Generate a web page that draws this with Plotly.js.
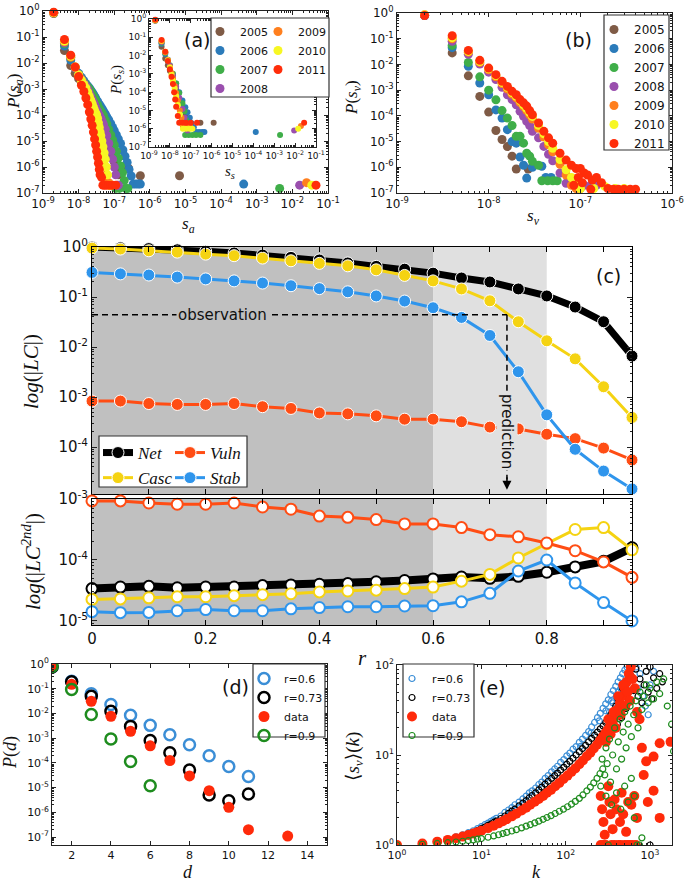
<!DOCTYPE html>
<html><head><meta charset="utf-8">
<script src="https://cdn.plot.ly/plotly-3.0.1.min.js"></script>
<style>body{margin:0;background:#fff}#chart{width:685px;height:881px}</style>
</head><body><div id="chart"></div>
<script>
// ---------------- DATA ----------------
const years = ['2005','2006','2007','2008','2009','2010','2011'];
// panel (a) main: [s_a, P(s_a)]
const a2005 = [[2e-9,0.8],[4e-9,0.03],[6e-9,0.008],[8e-9,0.004],[1e-8,0.0025],[1.2e-8,0.0017],[1.4e-8,0.0012],[1.6e-8,8.5e-4],[1.8e-8,6.2e-4],[2e-8,4.6e-4],[2.4e-8,2.7e-4],[2.8e-8,1.7e-4],[3.2e-8,1.1e-4],[3.8e-8,6.6e-5],[4.4e-8,4.2e-5],[5e-8,2.7e-5],[6e-8,1.5e-5],[7e-8,8e-6],[8e-8,4.5e-6],[9e-8,2.6e-6],[1e-7,1.6e-6],[1.15e-7,9e-7],[1.3e-7,5e-7],[2.5e-7,9e-7],[5.4e-7,4.6e-7],[6.8e-6,4.6e-7]];
const a2006 = [[2e-9,0.85],[4e-9,0.045],[6e-9,0.013],[8e-9,0.0065],[1e-8,0.004],[1.2e-8,0.0028],[1.4e-8,0.0021],[1.6e-8,0.0016],[1.8e-8,0.0013],[2e-8,0.0011],[2.2e-8,9e-4],[2.4e-8,7.5e-4],[2.6e-8,6.3e-4],[2.8e-8,5.3e-4],[3e-8,4.5e-4],[3.4e-8,3.4e-4],[3.8e-8,2.6e-4],[4.2e-8,2.1e-4],[4.6e-8,1.7e-4],[5e-8,1.4e-4],[5.6e-8,1.1e-4],[6.2e-8,8.5e-5],[7e-8,6.5e-5],[8e-8,4.6e-5],[9e-8,3.3e-5],[1e-7,2.5e-5],[1.15e-7,1.7e-5],[1.3e-7,1.2e-5],[1.5e-7,8e-6],[1.75e-7,4.5e-6],[2e-7,2.6e-6],[2.3e-7,1.5e-6],[2.6e-7,8e-7],[3e-7,4.5e-7],[3.4e-7,2.2e-7],[4e-7,2.2e-7],[4.7e-7,2.2e-7],[5.4e-7,2.2e-7],[4.3e-4,2.2e-7]];
const a2007 = [[2e-9,0.85],[4e-9,0.055],[6e-9,0.016],[8e-9,0.0068],[1e-8,0.0036],[1.2e-8,0.0025],[1.4e-8,0.0018],[1.6e-8,0.0014],[1.8e-8,0.0012],[2e-8,0.001],[2.2e-8,8e-4],[2.4e-8,6.5e-4],[2.6e-8,5.3e-4],[2.8e-8,4.4e-4],[3e-8,3.6e-4],[3.4e-8,2.5e-4],[3.8e-8,1.8e-4],[4.2e-8,1.4e-4],[4.6e-8,1.15e-4],[5e-8,9.5e-5],[5.6e-8,6.5e-5],[6.2e-8,4.5e-5],[7e-8,2.8e-5],[8e-8,1.7e-5],[9e-8,1.1e-5],[1e-7,7e-6],[1.15e-7,4e-6],[1.3e-7,2.2e-6],[1.5e-7,1.1e-6],[1.7e-7,6e-7],[1.9e-7,3e-7],[1.1e-7,1.5e-7],[1.4e-7,1.5e-7],[2.1e-7,1.5e-7],[2.4e-7,1.5e-7],[4.4e-3,1.5e-7]];
const a2008 = [[2e-9,0.85],[4e-9,0.06],[6e-9,0.017],[8e-9,0.0065],[1e-8,0.0035],[1.2e-8,0.0024],[1.4e-8,0.0017],[1.6e-8,0.0013],[1.8e-8,9.5e-4],[2e-8,6.8e-4],[2.2e-8,5.1e-4],[2.4e-8,3.9e-4],[2.6e-8,3.1e-4],[2.8e-8,2.5e-4],[3e-8,2e-4],[3.4e-8,1.4e-4],[3.8e-8,1e-4],[4.2e-8,7.5e-5],[4.6e-8,5.5e-5],[5e-8,4.2e-5],[5.6e-8,2.8e-5],[6.2e-8,1.6e-5],[7e-8,8e-6],[8e-8,4e-6],[9e-8,2e-6],[1e-7,1e-6],[1.1e-7,5e-7],[1.2e-7,2e-7],[1.3e-7,2e-7],[1.6e-2,2e-7]];
const a2009 = [[2e-9,0.85],[4e-9,0.065],[6e-9,0.017],[8e-9,0.0068],[1e-8,0.0033],[1.2e-8,0.002],[1.4e-8,0.0013],[1.6e-8,9e-4],[1.8e-8,6.2e-4],[2e-8,4.3e-4],[2.2e-8,3e-4],[2.4e-8,2.1e-4],[2.6e-8,1.5e-4],[2.8e-8,1.1e-4],[3e-8,8e-5],[3.2e-8,5.8e-5],[3.4e-8,4.2e-5],[3.6e-8,3e-5],[3.8e-8,2.1e-5],[4e-8,1.5e-5],[4.4e-8,8e-6],[4.8e-8,4e-6],[5.2e-8,2e-6],[5.6e-8,1e-6],[6e-8,5e-7],[6.5e-8,2.5e-7],[7e-8,2.5e-7],[2.5e-2,2.5e-7]];
const a2010 = [[2e-9,0.85],[4e-9,0.07],[6e-9,0.018],[8e-9,0.007],[1e-8,0.0035],[1.2e-8,0.0022],[1.4e-8,0.0015],[1.6e-8,0.0011],[1.8e-8,7.5e-4],[2e-8,5.2e-4],[2.2e-8,3.7e-4],[2.4e-8,2.7e-4],[2.6e-8,2e-4],[2.8e-8,1.5e-4],[3e-8,1.2e-4],[3.2e-8,1e-4],[3.4e-8,7.5e-5],[3.6e-8,5e-5],[3.8e-8,3.3e-5],[4e-8,2.2e-5],[4.2e-8,1.6e-5],[4.5e-8,1e-5],[4.8e-8,6e-6],[5.2e-8,3.5e-6],[5.6e-8,2e-6],[6e-8,1e-6],[6.5e-8,5e-7],[7e-8,2e-7],[7.6e-8,2e-7],[8.2e-8,2e-7],[3.5e-2,2e-7]];
const a2011 = [[2e-9,0.9],[4e-9,0.08],[6e-9,0.02],[8e-9,0.007],[1e-8,0.003],[1.2e-8,0.0014],[1.4e-8,8e-4],[1.6e-8,4.5e-4],[1.8e-8,2.5e-4],[2e-8,1.3e-4],[2.2e-8,7e-5],[2.4e-8,4e-5],[2.6e-8,2.2e-5],[2.8e-8,1.2e-5],[3e-8,7e-6],[3.2e-8,4e-6],[3.4e-8,2.4e-6],[3.6e-8,1.4e-6],[3.8e-8,8e-7],[4e-8,5e-7],[4.4e-8,4e-7],[4.8e-8,2e-7],[5.4e-8,2e-7],[6e-8,2e-7],[7e-8,2e-7],[8e-8,2e-7],[9e-8,2e-7],[1.1e-7,2e-7],[4.6e-2,2e-7]];
// panel (a) inset: [s_s, P(s_s)]
const s2005 = [[2e-9,0.8],[4e-9,0.03],[6e-9,0.007],[8e-9,0.003],[1e-8,0.0015],[1.4e-8,5e-4],[2e-8,1.5e-4],[2.8e-8,4e-5],[4e-8,1.2e-5],[5.5e-8,5e-6],[7e-8,2.1e-6],[2.9e-7,2.1e-6],[1.25e-6,2.1e-6]];
const s2006 = [[2e-9,0.85],[4e-9,0.045],[6e-9,0.012],[8e-9,0.005],[1e-8,0.0025],[1.4e-8,9e-4],[2e-8,3e-4],[2.8e-8,1e-4],[4e-8,3.5e-5],[5.5e-8,1.5e-5],[7e-8,8e-6],[9e-8,4e-6],[1.1e-7,2e-6],[1.4e-7,1.2e-6],[1.8e-7,6.6e-7],[2.5e-7,6.6e-7],[3.5e-7,6.6e-7],[4.5e-7,6.6e-7],[1.3e-4,6.6e-7]];
const s2007 = [[2e-9,0.85],[4e-9,0.05],[6e-9,0.014],[8e-9,0.006],[1e-8,0.003],[1.4e-8,0.001],[2e-8,3e-4],[2.8e-8,9e-5],[4e-8,2.5e-5],[5e-8,9e-6],[6e-8,3e-6],[7e-8,1e-6],[5.4e-8,4.5e-7],[8e-8,4.5e-7],[1.2e-7,4.5e-7],[1.8e-7,4.5e-7],[2.9e-7,4.5e-7],[1.9e-3,4.5e-7]];
const s2008 = [[2e-9,0.85],[4e-9,0.055],[6e-9,0.015],[8e-9,0.006],[1e-8,0.0028],[1.4e-8,8e-4],[2e-8,2e-4],[2.8e-8,5e-5],[4e-8,1.2e-5],[5e-8,4e-6],[6e-8,1.5e-6],[7e-8,8e-7],[9e-3,8e-7]];
const s2009 = [[2e-9,0.85],[4e-9,0.06],[6e-9,0.015],[8e-9,0.0055],[1e-8,0.0024],[1.2e-8,1.1e-3],[1.4e-8,5.5e-4],[1.7e-8,2.2e-4],[2e-8,9e-5],[2.4e-8,3.5e-5],[3e-8,1e-5],[3.6e-8,4e-6],[4.2e-8,1.4e-6],[6e-8,1.4e-6],[9e-8,1.4e-6],[1.9e-2,1.4e-6]];
const s2010 = [[2e-9,0.85],[4e-9,0.065],[6e-9,0.016],[8e-9,0.0055],[1e-8,0.0022],[1.2e-8,9e-4],[1.4e-8,4.2e-4],[1.7e-8,1.6e-4],[2e-8,6e-5],[2.4e-8,2e-5],[3e-8,6e-6],[3.6e-8,2e-6],[4.2e-8,1e-6],[6e-8,1e-6],[9e-8,1e-6],[1.2e-7,1e-6],[1.4e-2,1e-6]];
const s2011 = [[2e-9,0.9],[4e-9,0.07],[6e-9,0.016],[8e-9,0.005],[1e-8,0.0018],[1.2e-8,7e-4],[1.4e-8,2.8e-4],[1.6e-8,1e-4],[1.8e-8,4e-5],[2e-8,1.6e-5],[2.4e-8,5e-6],[2.8e-8,2.1e-6],[4e-8,2.1e-6],[6e-8,2.1e-6],[1e-7,2.1e-6],[2e-7,2.1e-6],[2.7e-2,2.1e-6]];
// panel (b): [s_v, P(s_v)]
const b2005 = [[2e-9,0.8],[4e-9,0.028],[6e-9,0.0036],[8e-9,5.7e-4],[1e-8,1.4e-4],[1.2e-8,2.7e-5],[1.4e-8,1.2e-5],[1.6e-8,6.4e-6],[1.8e-8,2.7e-6],[2e-8,8.6e-7],[2.7e-8,8.6e-7]];
const b2006 = [[2e-9,0.8],[4e-9,0.045],[6e-9,0.0085],[8e-9,0.0019],[1e-8,6.6e-4],[1.2e-8,1.7e-4],[1.4e-8,8.2e-5],[1.6e-8,2.9e-5],[1.8e-8,1e-5],[2e-8,8.7e-6],[2.2e-8,2.5e-6],[2.4e-8,1.2e-6],[2.6e-8,3.8e-7],[3e-8,1e-6],[3.8e-8,1.1e-6],[4.2e-8,4e-7],[4.8e-8,4e-7]];
const b2007 = [[2e-9,0.8],[4e-9,0.055],[6e-9,0.012],[8e-9,0.0033],[1e-8,1e-3],[1.2e-8,4.2e-4],[1.4e-8,1.6e-4],[1.6e-8,8.2e-5],[1.8e-8,4.2e-5],[2e-8,1.6e-5],[2.2e-8,1.6e-5],[2.4e-8,8.7e-6],[2.6e-8,3.5e-6],[2.8e-8,2.7e-6],[3e-8,1.7e-6],[3.5e-8,1.2e-6],[3.8e-8,3e-7],[4.4e-8,3e-7],[5e-8,3e-7],[5.6e-8,3e-7]];
const b2008 = [[2e-9,0.8],[4e-9,0.08],[6e-9,0.025],[8e-9,0.0104],[1e-8,0.005],[1.2e-8,0.0026],[1.4e-8,0.0013],[1.6e-8,6.6e-4],[1.8e-8,4.3e-4],[2e-8,2.7e-4],[2.2e-8,1.5e-4],[2.4e-8,9.6e-5],[2.6e-8,6.1e-5],[2.8e-8,4.2e-5],[3e-8,2.5e-5],[3.5e-8,1.4e-5],[4e-8,6.5e-6],[4.5e-8,3.2e-6],[5e-8,1.8e-6],[6e-8,6e-7],[7e-8,2.4e-7],[8e-8,2.4e-7],[9e-8,2.4e-7],[1.1e-7,2e-7],[1.3e-7,2e-7],[1.5e-7,2e-7]];
const b2009 = [[2e-9,0.85],[4e-9,0.1],[6e-9,0.03],[8e-9,0.012],[1e-8,0.0062],[1.2e-8,0.0033],[1.4e-8,0.0018],[1.6e-8,0.0011],[1.8e-8,7e-4],[2e-8,5e-4],[2.2e-8,3.3e-4],[2.4e-8,2.3e-4],[2.6e-8,1.6e-4],[2.8e-8,1.1e-4],[3e-8,7.5e-5],[3.5e-8,3.3e-5],[4e-8,1.5e-5],[4.5e-8,7.5e-6],[5e-8,4e-6],[6e-8,1.3e-6],[7e-8,5e-7],[8e-8,2e-7],[9e-8,1.5e-7],[1e-7,1.5e-7]];
const b2010 = [[2e-9,0.85],[4e-9,0.11],[6e-9,0.032],[8e-9,0.013],[1e-8,0.0068],[1.2e-8,0.0037],[1.4e-8,0.002],[1.6e-8,0.0013],[1.8e-8,8e-4],[2e-8,5.8e-4],[2.2e-8,3.9e-4],[2.4e-8,2.7e-4],[2.6e-8,1.9e-4],[2.8e-8,1.35e-4],[3e-8,9.5e-5],[3.5e-8,4.3e-5],[4e-8,2e-5],[4.5e-8,1e-5],[5e-8,5.5e-6],[6e-8,2e-6],[7e-8,8e-7],[8e-8,4e-7],[9e-8,2.5e-7],[1e-7,1.5e-7],[1.4e-7,1.5e-7],[1.85e-7,1.8e-7],[2.4e-7,1.5e-7],[3e-7,1.5e-7]];
const b2011 = [[2e-9,0.8],[4e-9,0.13],[6e-9,0.035],[8e-9,0.0144],[1e-8,0.0072],[1.2e-8,0.004],[1.4e-8,0.0022],[1.6e-8,0.0014],[1.8e-8,9e-4],[2e-8,6.6e-4],[2.2e-8,4.3e-4],[2.4e-8,3.2e-4],[2.6e-8,2.4e-4],[2.8e-8,1.6e-4],[3e-8,1.1e-4],[3.5e-8,5.3e-5],[4e-8,2.5e-5],[4.5e-8,1.4e-5],[5e-8,8.7e-6],[6e-8,3.5e-6],[7e-8,1.9e-6],[8e-8,1.2e-6],[9e-8,9e-7],[1e-7,9e-7],[1.1e-7,6e-7],[1.2e-7,5e-7],[1.35e-7,3.2e-7],[1.5e-7,4e-7],[1.7e-7,2.5e-7],[2e-7,1.5e-7],[2.3e-7,1.4e-7],[2.6e-7,1.4e-7],[3e-7,1.4e-7],[3.5e-7,1.4e-7],[4e-7,1.4e-7],[9.5e-8,4e-7],[1.05e-7,2.5e-7],[8.5e-8,2e-7],[1.3e-7,1.4e-7]];

// panel (c): r and LC values
const rVals = [0,0.05,0.1,0.15,0.2,0.25,0.3,0.35,0.4,0.45,0.5,0.55,0.6,0.65,0.7,0.75,0.8,0.85,0.9,0.95];
const netLC  = [1.0,0.97,0.93,0.88,0.82,0.76,0.69,0.62,0.55,0.48,0.41,0.36,0.30,0.24,0.20,0.145,0.105,0.063,0.032,0.0066];
const cascLC = [0.95,0.91,0.84,0.79,0.72,0.67,0.60,0.53,0.47,0.42,0.35,0.27,0.21,0.145,0.084,0.032,0.0133,0.0058,0.0016,3.9e-4];
const vulnLC = [8.3e-4,8.3e-4,7.4e-4,7.1e-4,7.1e-4,7.4e-4,6.4e-4,5.9e-4,4.8e-4,4.6e-4,4.2e-4,3.6e-4,3.6e-4,3.2e-4,2.5e-4,2.3e-4,1.8e-4,1.47e-4,9.5e-5,5.5e-5];
const stabLC = [0.31,0.29,0.275,0.25,0.23,0.21,0.19,0.168,0.147,0.127,0.105,0.083,0.061,0.039,0.017,0.0032,4.4e-4,9.0e-5,3.3e-5,1.45e-5];
const netLC2  = [3.4e-5,3.6e-5,3.7e-5,3.5e-5,3.6e-5,3.6e-5,3.8e-5,3.9e-5,4.0e-5,4.1e-5,4.4e-5,4.6e-5,4.9e-5,5.25e-5,5.0e-5,5.4e-5,6.3e-5,7.7e-5,9.5e-5,1.58e-4];
const cascLC2 = [2.26e-5,2.3e-5,2.4e-5,2.5e-5,2.5e-5,2.6e-5,2.7e-5,2.8e-5,3.0e-5,3.1e-5,3.2e-5,3.4e-5,3.6e-5,4.5e-5,5.8e-5,1.08e-4,1.85e-4,3.16e-4,3.4e-4,1.47e-4];
const vulnLC2 = [9.3e-4,9.3e-4,8.6e-4,8.2e-4,8.2e-4,8.6e-4,7.4e-4,6.8e-4,5.25e-4,5.0e-4,4.6e-4,3.9e-4,3.9e-4,3.4e-4,2.6e-4,2.4e-4,1.9e-4,1.42e-4,9.3e-5,5.2e-5];
const stabLC2 = [1.42e-5,1.37e-5,1.38e-5,1.47e-5,1.54e-5,1.47e-5,1.47e-5,1.58e-5,1.66e-5,1.71e-5,1.71e-5,1.76e-5,1.78e-5,2.06e-5,2.84e-5,6.6e-5,1.0e-4,4.2e-5,2.0e-5,1.0e-5];
const darkBand = [0, 0.6], lightBand = [0.6, 0.8];
const obsR = 0.73, obsLC = 0.044, predEnd = 1.4e-5;

// panel (d)
const d06x = [1,2,3,4,5,6,7,8,9,10,11];
const d06y = [0.75,0.2,0.063,0.023,0.0085,0.0033,0.00138,5.4e-4,1.94e-4,7.1e-5,2.8e-5];
const d073x = [1,2,3,4,5,6,7,8,9,10,11];
const d073y = [0.75,0.19,0.05,0.0123,0.003,8.1e-4,2.6e-4,5.2e-5,5.0e-6,2.95e-6,5.5e-6];
const dDatx = [1,2,3,4,5,6,7,8,9,10,11,13];
const dDaty = [0.75,0.15,0.031,0.0077,0.0019,4.9e-4,1.25e-4,2.96e-5,7.5e-6,1.6e-6,2.0e-7,1.1e-7];
const d09x = [1,2,3,4,5,6];
const d09y = [0.8,0.094,0.0091,9.3e-4,1.15e-4,1.2e-5];

// panel (e): [k, <s_v>(k)]
const e06 = [[1,1.0],[2,1.05],[3,1.1],[4,1.16],[5,1.23],[6,1.3],[7,1.37],[8,1.44],[9,1.52],[10,1.6],[11,1.68],[12,1.75],[13,1.83],[14,1.9],[15,1.98],[17,2.1],[19,2.3],[21,2.45],[23,2.6],[25,2.8],[28,3.0],[31,3.25],[34,3.5],[37,3.8],[40,4.0],[44,4.3],[48,4.7],[52,5.0],[57,5.5],[62,5.9],[68,6.5],[74,7.0],[80,7.5],[87,8.3],[95,8.9],[103,9.8],[112,10.5],[122,11.6],[133,12.4],[145,13.8],[158,15.0],[172,16.5],[187,18.2],[203,20.5],[220,23],[238,26],[257,29],[277,33],[298,37],[320,41],[343,47],[367,52],[392,58],[418,65],[445,72],[473,80],[502,88],[532,95],[150,12.5],[200,17.5],[250,24],[300,31],[350,40],[420,50],[480,62],[330,30],[360,38],[400,45],[450,55],[520,60],[560,75],[600,90],[640,70],[680,95],[720,55],[760,80],[820,45],[880,35],[950,28],[1000,60],[1100,85]];
const e073 = [[1,1.0],[2,1.04],[3,1.09],[4,1.14],[5,1.2],[6,1.26],[7,1.32],[8,1.38],[9,1.45],[10,1.52],[11,1.58],[12,1.65],[13,1.71],[14,1.78],[15,1.84],[17,1.97],[19,2.1],[21,2.25],[23,2.38],[25,2.5],[28,2.72],[31,2.92],[34,3.12],[37,3.35],[40,3.55],[44,3.8],[48,4.1],[52,4.4],[57,4.75],[62,5.1],[68,5.5],[74,5.9],[80,6.3],[87,6.8],[95,7.3],[103,7.9],[112,8.5],[122,9.2],[133,10.0],[145,10.9],[158,11.8],[172,12.8],[187,14.0],[203,15.3],[220,16.6],[238,18.0],[257,19.5],[277,21],[298,23],[320,25],[343,28],[367,24],[392,35],[418,42],[445,30],[473,55],[502,48],[532,65],[560,40],[600,75],[640,52],[680,90],[720,45],[760,70],[800,38],[850,60],[900,85],[950,50],[1000,95],[1050,42],[1100,72],[1200,55],[1300,80],[1400,65],[1000,1.0],[380,28],[410,22],[430,36],[460,26],[490,40],[520,33]];
const eData = [[1,1.0],[2,1.04],[3,1.09],[4,1.14],[5,1.19],[6,1.24],[7,1.29],[8,1.34],[9,1.39],[10,1.44],[12,1.54],[14,1.64],[16,1.74],[18,1.84],[20,1.94],[23,2.08],[26,2.22],[30,2.42],[34,2.6],[38,2.8],[43,3.02],[48,3.25],[54,3.5],[60,3.8],[67,4.1],[75,4.5],[84,4.9],[94,5.4],[105,5.9],[117,6.5],[130,7.1],[145,7.9],[160,8.7],[178,9.7],[196,10.6],[215,11.8],[235,13],[255,14.5],[275,16],[295,17.5],[315,19],[335,21],[360,23],[385,27],[410,32],[440,38],[470,45],[500,55],[530,65],[560,80],[590,95],[300,14],[320,25],[340,17],[370,30],[390,20],[420,45],[450,28],[480,60],[510,35],[540,50],[580,40],[620,70],[660,55],[700,30],[750,25],[800,12],[840,6],[900,8.5],[1100,9.6],[1300,13.5],[1750,14],[1100,4],[1300,2],[940,3],[260,3.5],[270,2.5],[280,1.8],[290,1.3],[300,1.0],[320,4.5],[330,3.0],[340,2.2],[350,1.0],[360,1.5],[380,3.2],[400,2.5],[420,1.0],[440,1.8],[460,3.8],[480,2.2],[500,1.0],[520,1.4],[550,3.0],[580,1.0],[600,2.8],[620,1.0],[650,3.5],[680,1.0],[700,2.0],[280,1.0],[260,1.0],[380,1.0],[450,1.0],[540,1.0]];
const e09 = [[1,1.0],[2,1.02],[3,1.04],[4,1.06],[5,1.08],[6,1.1],[7,1.12],[8,1.14],[9,1.16],[10,1.18],[12,1.22],[14,1.26],[16,1.3],[18,1.34],[20,1.38],[23,1.43],[26,1.48],[30,1.55],[34,1.62],[38,1.68],[43,1.76],[48,1.84],[54,1.93],[60,2.02],[67,2.12],[75,2.24],[84,2.37],[94,2.5],[105,2.66],[117,2.84],[130,3.05],[145,3.3],[160,3.6],[178,4.0],[196,4.4],[215,4.9],[235,5.5],[255,6.2],[275,7.0],[260,4.5],[270,9],[290,6],[300,12],[310,8],[330,15],[340,5],[360,10],[380,20],[400,7],[420,14],[440,25],[460,9],[480,18],[500,30],[520,12],[550,22],[580,35],[600,16],[640,28],[680,40],[720,20],[760,50],[800,32],[850,45],[900,60],[950,38],[1000,55],[1100,42],[1200,65],[1300,48],[1450,70],[1600,35],[1800,22],[1900,11],[300,3.5],[350,2.8],[400,3.8],[450,2.5],[500,4.5],[550,3.0],[600,5.5],[650,3.5],[700,1.0],[750,1.0],[800,1.2],[320,1.0],[650,2.0]];

// tick exponents
const expSa = [-9,-8,-7,-6,-5,-4,-3,-2,-1];
const expP  = [-7,-6,-5,-4,-3,-2,-1,0];
const expSv = [-9,-8,-7,-6];
const expCt = [-4,-3,-2,-1,0];
const expCb = [-5,-4,-3];
const expEk = [0,1,2,3];
const expEs = [0,1,2];

// ---------------- STYLE / LAYOUT ----------------
const W = 685, H = 881;
const PX = v => v / W, PY = v => 1 - v / H;
const LINE = '#222';
const SANS = 'DejaVu Sans, sans-serif';
const SERIF = 'Liberation Serif, DejaVu Serif, serif';
const yearColors = ['#7f5b46','#2b7bba','#3fae49','#9a4fae','#ff7f1e','#f7f722','#ff2d0a'];
const cNet = '#000000', cCasc = '#f5d312', cVuln = '#ff4d14', cStab = '#2f95ec';
const cB = '#3b8ed6', cK = '#000000', cR = '#ff2a0a', cG = '#1e8c1e';

const pw = e => Math.pow(10, e);
const lbl = e => '10<sup>' + e + '</sup>';
function minorVals(lo, hi) {
  const v = [];
  for (let e = Math.floor(lo); e < Math.ceil(hi); e++) for (let m = 2; m < 10; m++) v.push(m * Math.pow(10, e));
  return v;
}
function baseAxis(dom, anchor, extra) {
  return Object.assign({
    domain: dom, anchor: anchor, showline: true, linecolor: LINE, linewidth: 1, mirror: 'ticks',
    ticks: 'inside', ticklen: 4, tickwidth: 1, tickcolor: LINE, showgrid: false, zeroline: false, tickangle: 0,
    tickfont: {family: SANS, size: 12, color: '#111'}, fixedrange: true
  }, extra || {});
}
function logAxis(dom, anchor, range, exps, fsize, extra) {
  return baseAxis(dom, anchor, Object.assign({
    type: 'log', range: range, tickmode: 'array', tickvals: exps.map(pw), ticktext: exps.map(lbl),
    minor: {tickmode: 'array', tickvals: minorVals(range[0], range[1]), ticks: 'inside', ticklen: 2, tickcolor: LINE},
    tickfont: {family: SANS, size: fsize, color: '#111'}
  }, extra || {}));
}
const X = p => p.map(q => q[0]);
const Y = p => p.map(q => q[1]);

const traces = [];
const aSets = [a2005, a2006, a2007, a2008, a2009, a2010, a2011];
const sSets = [s2005, s2006, s2007, s2008, s2009, s2010, s2011];
const bSets = [b2005, b2006, b2007, b2008, b2009, b2010, b2011];
years.forEach((yr, i) => {
  traces.push({type: 'scatter', mode: 'markers', x: X(aSets[i]), y: Y(aSets[i]), xaxis: 'x', yaxis: 'y',
    name: yr, legend: i < 4 ? 'legend' : 'legend2', cliponaxis: false,
    marker: {color: yearColors[i], size: 9, line: {width: 0}}});
});
years.forEach((yr, i) => {
  traces.push({type: 'scatter', mode: 'markers', x: X(sSets[i]), y: Y(sSets[i]), xaxis: 'x2', yaxis: 'y2',
    name: yr, showlegend: false, cliponaxis: false,
    marker: {color: yearColors[i], size: 6, line: {width: 0}}});
});
years.forEach((yr, i) => {
  traces.push({type: 'scatter', mode: 'markers', x: X(bSets[i]), y: Y(bSets[i]), xaxis: 'x3', yaxis: 'y3',
    name: yr, legend: 'legend3', cliponaxis: false,
    marker: {color: yearColors[i], size: 9, line: {width: 0}}});
});
// panel (c)
const cSeries = [
  ['<i>Net</i>', netLC, netLC2, cNet, 7, 'legend4'],
  ['<i>Casc</i>', cascLC, cascLC2, cCasc, 3, 'legend4'],
  ['<i>Vuln</i>', vulnLC, vulnLC2, cVuln, 3, 'legend5'],
  ['<i>Stab</i>', stabLC, stabLC2, cStab, 3, 'legend5']
];
cSeries.forEach(s => {
  traces.push({type: 'scatter', mode: 'lines+markers', x: rVals, y: s[1], xaxis: 'x4', yaxis: 'y4',
    name: s[0], legend: s[5], cliponaxis: false,
    line: {color: s[3], width: s[4]}, marker: {color: s[3], size: 12, line: {color: '#ffffff', width: 1}}});
});
cSeries.forEach(s => {
  traces.push({type: 'scatter', mode: 'lines+markers', x: rVals, y: s[2], xaxis: 'x5', yaxis: 'y5',
    name: s[0], showlegend: false, cliponaxis: false,
    line: {color: s[3], width: s[4] === 7 ? 8 : 3}, marker: {color: '#ffffff', size: 11, line: {color: s[3], width: 2}}});
});
// panel (d)
traces.push({type: 'scatter', mode: 'markers', x: d06x, y: d06y, xaxis: 'x6', yaxis: 'y6', name: 'r=0.6', legend: 'legend6',
  marker: {color: 'rgba(0,0,0,0)', size: 11, line: {color: cB, width: 2.5}}});
traces.push({type: 'scatter', mode: 'markers', x: d073x, y: d073y, xaxis: 'x6', yaxis: 'y6', name: 'r=0.73', legend: 'legend6',
  marker: {color: 'rgba(0,0,0,0)', size: 11, line: {color: cK, width: 2.5}}});
traces.push({type: 'scatter', mode: 'markers', x: dDatx, y: dDaty, xaxis: 'x6', yaxis: 'y6', name: 'data', legend: 'legend6',
  marker: {color: cR, size: 11, line: {width: 0}}});
traces.push({type: 'scatter', mode: 'markers', x: d09x, y: d09y, xaxis: 'x6', yaxis: 'y6', name: 'r=0.9', legend: 'legend6',
  marker: {color: 'rgba(0,0,0,0)', size: 11, line: {color: cG, width: 2.5}}});
// panel (e)
traces.push({type: 'scatter', mode: 'markers', x: X(e06), y: Y(e06), xaxis: 'x7', yaxis: 'y7', name: 'r=0.6', legend: 'legend7',
  marker: {color: 'rgba(0,0,0,0)', size: 6, line: {color: cB, width: 1.2}}});
traces.push({type: 'scatter', mode: 'markers', x: X(e073), y: Y(e073), xaxis: 'x7', yaxis: 'y7', name: 'r=0.73', legend: 'legend7',
  marker: {color: 'rgba(0,0,0,0)', size: 6, line: {color: cK, width: 1.2}}});
traces.push({type: 'scatter', mode: 'markers', x: X(eData), y: Y(eData), xaxis: 'x7', yaxis: 'y7', name: 'data', legend: 'legend7',
  marker: {color: cR, size: 10, line: {width: 0}}});
traces.push({type: 'scatter', mode: 'markers', x: X(e09), y: Y(e09), xaxis: 'x7', yaxis: 'y7', name: 'r=0.9', legend: 'legend7',
  marker: {color: 'rgba(0,0,0,0)', size: 6, line: {color: cG, width: 1.2}}});

function leg(xp, yp, size, fam) {
  return {x: PX(xp), y: PY(yp), xref: 'paper', yref: 'paper', xanchor: 'left', yanchor: 'top',
    bgcolor: 'rgba(0,0,0,0)', borderwidth: 0, itemwidth: 30, traceorder: 'normal',
    font: {family: fam || SANS, size: size, color: '#111'}, itemclick: false, itemdoubleclick: false};
}
function box(x0, y0, x1, y1) {
  return {type: 'rect', xref: 'paper', yref: 'paper', x0: PX(x0), x1: PX(x1), y0: PY(y0), y1: PY(y1),
    fillcolor: '#ffffff', line: {color: '#333', width: 1.2}, layer: 'above'};
}
function txt(xp, yp, text, size, opts) {
  return Object.assign({xref: 'paper', yref: 'paper', x: PX(xp), y: PY(yp), text: text, showarrow: false,
    xanchor: 'center', yanchor: 'middle', font: {family: SANS, size: size, color: '#111'}}, opts || {});
}
const serif = (s) => ({family: SERIF, size: s, color: '#111'});

const shapes = [];
['4', '5'].forEach(n => {
  shapes.push({type: 'rect', xref: 'x' + n, yref: 'y' + n + ' domain', x0: darkBand[0], x1: darkBand[1], y0: 0, y1: 1,
    fillcolor: '#c0c0c0', line: {width: 0}, layer: 'below'});
  shapes.push({type: 'rect', xref: 'x' + n, yref: 'y' + n + ' domain', x0: lightBand[0], x1: lightBand[1], y0: 0, y1: 1,
    fillcolor: '#e0e0e0', line: {width: 0}, layer: 'below'});
});
shapes.push({type: 'line', xref: 'x4', yref: 'y4', x0: 0, x1: obsR, y0: obsLC, y1: obsLC,
  line: {color: '#000', width: 1.5, dash: '6px,4px'}, layer: 'above'});
shapes.push({type: 'line', xref: 'x4', yref: 'y4', x0: obsR, x1: obsR, y0: obsLC, y1: predEnd * 1.6,
  line: {color: '#000', width: 1.5, dash: '6px,4px'}, layer: 'above'});
shapes.push(box(211, 18, 329, 97));
shapes.push(box(604, 15, 669, 150));
shapes.push(box(99, 436, 247, 487));
shapes.push(box(253, 664, 325, 737));
shapes.push(box(403, 664, 474, 737));

const annotations = [
  txt(197, 40, '(a)', 19), txt(578, 40, '(b)', 19), txt(608, 276, '(c)', 19),
  txt(235, 687, '(d)', 19), txt(492, 688, '(e)', 19),
  txt(222, 315, 'observation', 15, {bgcolor: '#c0c0c0', borderpad: 1}),
  txt(507, 431, 'prediction', 15, {textangle: 90, bgcolor: '#e0e0e0', borderpad: 1}),
  {xref: 'x4', yref: 'y4', x: obsR, y: Math.log10(predEnd), ax: 0, ay: -14, showarrow: true, text: '',
    arrowhead: 2, arrowsize: 1.2, arrowwidth: 1.5, arrowcolor: '#000'},
  txt(15, 92, '<i>P</i>(<i>s<sub>a</sub></i>)', 17, {textangle: -90, font: serif(17)}),
  txt(188, 225, '<i>s<sub>a</sub></i>', 17, {font: serif(17)}),
  txt(117, 80, '<i>P</i>(<i>s<sub>s</sub></i>)', 15, {textangle: -90, font: serif(15)}),
  txt(230, 172, '<i>s<sub>s</sub></i>', 15, {font: serif(15)}),
  txt(353, 97, '<i>P</i>(<i>s<sub>v</sub></i>)', 17, {textangle: -90, font: serif(17)}),
  txt(533, 217, '<i>s<sub>v</sub></i>', 17, {font: serif(17)}),
  txt(31, 372, '<i>log</i>(|<i>LC</i>|)', 21, {textangle: -90, font: serif(21)}),
  txt(31, 562, '<i>log</i>(|<i>LC</i><sup><i>2nd</i></sup>|)', 21, {textangle: -90, font: serif(21)}),
  txt(362, 658, '<i>r</i>', 21, {font: serif(21)}),
  txt(10, 753, '<i>P</i>(<i>d</i>)', 18, {textangle: -90, font: serif(18)}),
  txt(188, 872, '<i>d</i>', 18, {font: serif(18)}),
  txt(354, 757, '⟨<i>s<sub>v</sub></i>⟩(<i>k</i>)', 19, {textangle: -90, font: serif(19)}),
  txt(536, 872, '<i>k</i>', 18, {font: serif(18)})
];

const layout = {
  width: W, height: H, margin: {l: 0, r: 0, t: 0, b: 0}, paper_bgcolor: '#ffffff', plot_bgcolor: '#ffffff',
  font: {family: SANS, color: '#111'}, showlegend: true, hovermode: false,
  xaxis: logAxis([PX(43), PX(328)], 'y', [-9, -1], expSa, 12),
  yaxis: logAxis([PY(193), PY(11)], 'x', [-7, 0], expP, 12),
  xaxis2: logAxis([PX(149), PX(316)], 'y2', [-9, -1], expSa, 9),
  yaxis2: logAxis([PY(147), PY(19)], 'x2', [-7, 0], expP, 9),
  xaxis3: logAxis([PX(397), PX(672)], 'y3', [-9, -6], expSv, 12),
  yaxis3: logAxis([PY(193), PY(13)], 'x3', [-7, 0], expP, 12),
  xaxis4: baseAxis([PX(92), PX(632)], 'y4', {range: [0, 0.95], tick0: 0, dtick: 0.2, showticklabels: false, linecolor: '#000', tickcolor: '#000', ticklen: 5,
    minor: {dtick: 0.1, ticks: 'inside', ticklen: 5, tickcolor: '#000'}}),
  yaxis4: logAxis([PY(494), PY(247)], 'x4', [-4.94, 0], expCt, 15, {linecolor: '#000', ticklen: 5}),
  xaxis5: baseAxis([PX(92), PX(632)], 'y5', {range: [0, 0.95], tick0: 0, dtick: 0.2, linecolor: '#000', tickcolor: '#000', ticklen: 5,
    tickfont: {family: SANS, size: 15, color: '#111'}, minor: {dtick: 0.1, ticks: 'inside', ticklen: 5, tickcolor: '#000'}}),
  yaxis5: logAxis([PY(625), PY(499)], 'x5', [-5.066, -3.0], expCb, 15, {linecolor: '#000', ticklen: 5}),
  xaxis6: baseAxis([PX(52), PX(327)], 'y6', {range: [1, 15], tick0: 0, dtick: 2, tickfont: {family: SANS, size: 11, color: '#111'}}),
  yaxis6: logAxis([PY(845), PY(664)], 'x6', [-7.32, 0], expP, 11),
  xaxis7: logAxis([PX(397), PX(672)], 'y7', [0, 3.26], expEk, 11),
  yaxis7: logAxis([PY(845), PY(665)], 'x7', [0, 2], expEs, 11),
  legend: leg(200, 17, 11),
  legend2: leg(258, 17, 11),
  legend3: leg(594, 15, 12),
  legend4: leg(98, 435, 17, SERIF),
  legend5: leg(170, 435, 17, SERIF),
  legend6: leg(244, 664, 11),
  legend7: leg(392, 664, 11),
  shapes: shapes,
  annotations: annotations
};

Plotly.newPlot('chart', traces, layout, {displayModeBar: false, staticPlot: true});
</script></body></html>
